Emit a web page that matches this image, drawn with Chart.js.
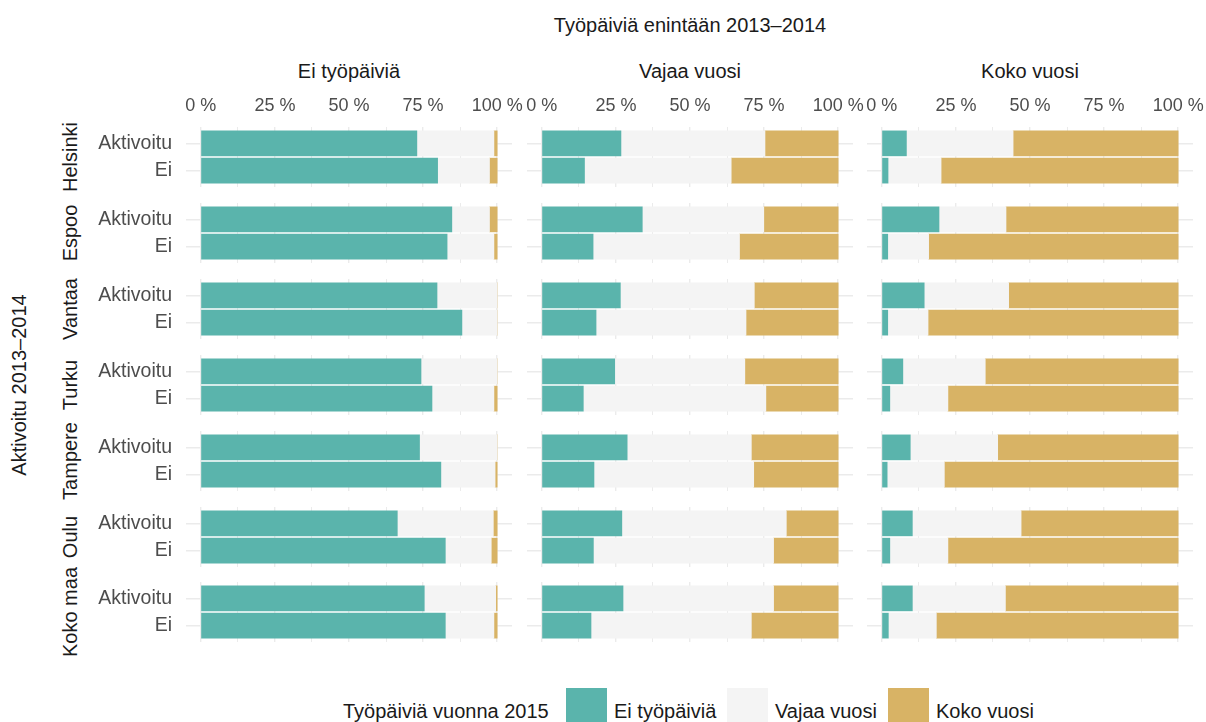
<!DOCTYPE html>
<html>
<head>
<meta charset="utf-8">
<script src="https://cdn.jsdelivr.net/npm/chart.js@4.4.1/dist/chart.umd.min.js"></script>
<style>
  body { margin: 0; width: 1206px; height: 722px; overflow: hidden; background: #fff; position: relative;
         font-family: 'Liberation Sans', Arial, sans-serif; }
  .txt { position: absolute; white-space: nowrap; color: #1a1a1a; font-size: 20px; line-height: 20px; }
  .c { transform: translate(-50%, -50%); }
  .rot { transform: translate(-50%, -50%) rotate(-90deg); }
  .panel { position: absolute; }
  .key { position: absolute; width: 41px; height: 41px; top: 688px; }
</style>
</head>
<body>
<div class="txt c" style="left:690px; top:25px;">Työpäiviä enintään 2013–2014</div>
<div class="txt rot" style="left:19px; top:385px;">Aktivoitu 2013–2014</div>
<div id="facets"></div>
<div id="legend">
  <div class="txt" style="left:343px; top:701px;">Työpäiviä vuonna 2015</div>
</div>

<script>
// facets: work days 2013-2014 (columns) x city (rows), bars: activated or not
const columns = ['Ei työpäiviä', 'Vajaa vuosi', 'Koko vuosi'];
const regions = ['Helsinki', 'Espoo', 'Vantaa', 'Turku', 'Tampere', 'Oulu', 'Koko maa'];
const groups = ['Aktivoitu', 'Ei'];
const outcomes = ['Ei työpäiviä', 'Vajaa vuosi', 'Koko vuosi'];
const outcomeColors = ['#5ab4ac', '#f4f4f4', '#d8b365'];
const xTicks = [0, 12.5, 25, 37.5, 50, 62.5, 75, 87.5, 100];

// % per region, order: Helsinki Akt, Helsinki Ei, Espoo Akt, Espoo Ei, ...
// column "Ei työpäiviä"
const noneBefore_none = [72.9, 79.9, 84.7, 83.1, 79.7, 88.1, 74.3, 78.0, 73.8, 81.0, 66.3, 82.5, 75.4, 82.5];
const noneBefore_part = [26.0, 17.5, 12.7, 15.8, 20.3, 11.9, 25.7, 20.9, 26.2, 18.3, 32.4, 15.5, 24.1, 16.4];
const noneBefore_full = [1.1, 2.6, 2.6, 1.1, 0, 0, 0, 1.1, 0, 0.7, 1.3, 2.0, 0.5, 1.1];
// column "Vajaa vuosi"
const partBefore_none = [26.7, 14.4, 33.9, 17.3, 26.5, 18.3, 24.6, 14.0, 28.8, 17.6, 27.0, 17.4, 27.4, 16.6];
const partBefore_part = [48.6, 49.5, 41.0, 49.4, 45.2, 50.6, 43.9, 61.6, 41.9, 53.9, 55.5, 60.8, 50.8, 54.1];
const partBefore_full = [24.7, 36.1, 25.1, 33.3, 28.3, 31.1, 31.5, 24.4, 29.3, 28.5, 17.5, 21.8, 21.8, 29.3];
// column "Koko vuosi"
const fullBefore_none = [8.3, 2.1, 19.3, 2.0, 14.3, 2.0, 7.1, 2.7, 9.6, 1.8, 10.3, 2.7, 10.3, 2.2];
const fullBefore_part = [36.0, 17.9, 22.6, 13.8, 28.5, 13.6, 27.8, 19.6, 29.5, 19.3, 36.7, 19.6, 31.4, 16.2];
const fullBefore_full = [55.7, 80.0, 58.1, 84.2, 57.2, 84.4, 65.1, 77.7, 60.9, 78.9, 53.0, 77.7, 58.3, 81.6];

const panelValues = [
  [noneBefore_none, noneBefore_part, noneBefore_full],
  [partBefore_none, partBefore_part, partBefore_full],
  [fullBefore_none, fullBefore_part, fullBefore_full]
];

Chart.defaults.font.family = "'Liberation Sans', Arial, sans-serif";
Chart.defaults.animation = false;

const PANEL_W = 326, PANEL_H = 60;
const panelLeft = [186, 527, 867];
const panelTop = r => Math.round(127 + 75.9 * r);
const facets = document.getElementById('facets');

// column titles
columns.forEach((t, c) => {
  const d = document.createElement('div');
  d.className = 'txt c';
  d.style.left = (panelLeft[c] + PANEL_W / 2) + 'px';
  d.style.top = '71px';
  d.textContent = t;
  facets.appendChild(d);
});

// row strip labels
regions.forEach((t, r) => {
  const d = document.createElement('div');
  d.className = 'txt rot';
  d.style.left = '70px';
  d.style.top = (panelTop(r) + PANEL_H / 2) + 'px';
  d.textContent = t;
  facets.appendChild(d);
});

function makePanel(r, c) {
  const padL = c === 0 ? 110 : 10;
  const axisTop = r === 0 ? 36 : 0;
  const padT = axisTop + 4;
  const box = document.createElement('div');
  box.className = 'panel';
  box.style.left = (panelLeft[c] - padL) + 'px';
  box.style.top = (panelTop(r) - padT) + 'px';
  box.style.width = (padL + PANEL_W + 15) + 'px';
  box.style.height = (padT + PANEL_H + 2) + 'px';
  const cv = document.createElement('canvas');
  box.appendChild(cv);
  facets.appendChild(box);

  const datasets = outcomes.map((name, k) => ({
    label: name,
    data: groups.map((g, i) => ({ x: panelValues[c][k][2 * r + i], y: i })),
    backgroundColor: outcomeColors[k],
    borderWidth: 0,
    barThickness: 25
  }));

  new Chart(cv, {
    type: 'bar',
    data: { datasets: datasets },
    options: {
      indexAxis: 'y',
      responsive: true,
      maintainAspectRatio: false,
      layout: { padding: { left: c === 0 ? 0 : 10, right: 15, top: 4, bottom: 2 } },
      plugins: { legend: { display: false }, tooltip: { enabled: false } },
      scales: {
        x: {
          type: 'linear',
          position: 'top',
          stacked: true,
          min: -5, max: 105,
          afterBuildTicks: s => { s.ticks = xTicks.map(v => ({ value: v })); },
          afterFit: s => { s.height = axisTop; s.paddingLeft = 0; s.paddingRight = 0; },
          border: { display: false },
          grid: {
            color: '#ebebeb',
            lineWidth: ctx => (ctx.tick && ctx.tick.value % 25 === 0) ? 1.4 : 1,
            drawTicks: false
          },
          ticks: {
            display: r === 0,
            autoSkip: false,
            maxRotation: 0,
            padding: 10,
            color: '#4d4d4d',
            font: { size: 18 },
            callback: v => (v % 25 === 0 ? v + ' %' : '')
          }
        },
        y: {
          type: 'linear',
          stacked: true,
          reverse: true,
          min: -0.6, max: 1.6,
          offset: false,
          afterBuildTicks: s => { s.ticks = groups.map((g, i) => ({ value: i })); },
          afterFit: s => { s.width = c === 0 ? 110 : 0; s.paddingTop = 0; s.paddingBottom = 0; },
          border: { display: false },
          grid: { color: '#ebebeb', lineWidth: 1.4, drawTicks: false, offset: false },
          ticks: {
            display: c === 0,
            padding: 14,
            color: '#4d4d4d',
            font: { size: 19.5 },
            callback: v => groups[v]
          }
        }
      }
    }
  });
}

for (let r = 0; r < regions.length; r++) {
  for (let c = 0; c < columns.length; c++) makePanel(r, c);
}

// legend keys
const legend = document.getElementById('legend');
const keyLeft = [566, 727, 888];
outcomes.forEach((name, k) => {
  const sq = document.createElement('div');
  sq.className = 'key';
  sq.style.left = keyLeft[k] + 'px';
  sq.style.background = outcomeColors[k];
  legend.appendChild(sq);
  const lb = document.createElement('div');
  lb.className = 'txt';
  lb.style.left = (keyLeft[k] + 48) + 'px';
  lb.style.top = '701px';
  lb.textContent = name;
  legend.appendChild(lb);
});
</script>
</body>
</html>
